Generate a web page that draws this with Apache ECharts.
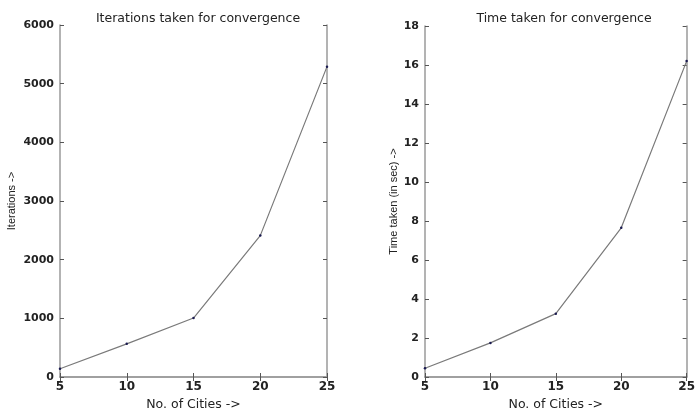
<!DOCTYPE html>
<html>
<head>
<meta charset="utf-8">
<script src="https://cdn.jsdelivr.net/npm/echarts@6/dist/echarts.min.js"></script>
<style>html,body{margin:0;padding:0;background:#fff}#c{width:698px;height:416px}</style>
</head>
<body>
<div id="c"></div>
<script>
const cities = [5, 10, 15, 20, 25];
const iterations = [140, 565, 1005, 2410, 5290];
const timeSec = [0.45, 1.75, 3.25, 7.65, 16.2];
const leftTitle = 'Iterations taken for convergence';
const rightTitle = 'Time taken for convergence';
const xName = 'No. of Cities ->';
const leftYName = 'Iterations ->';
const rightYName = 'Time taken (in sec) ->';

const FONT = 'DejaVu Sans';
const TXT = '#222';
const AX = '#9a9a9a';

function pairs(xs, ys) { return xs.map((x, i) => [x, ys[i]]); }

function xAxes(gi) {
  const base = {
    gridIndex: gi, type: 'value', min: 5, max: 25, interval: 5,
    splitLine: { show: false },
    axisLine: { show: true, lineStyle: { color: AX, width: 1.5 } },
    axisTick: { show: true, inside: true, length: 4, lineStyle: { color: '#555', width: 1 } }
  };
  return [
    Object.assign({}, base, {
      position: 'bottom',
      name: xName, nameLocation: 'middle', nameGap: 21,
      nameTextStyle: { fontFamily: FONT, fontSize: 12.5, color: TXT },
      axisLabel: { fontFamily: FONT, fontSize: 12, fontWeight: 'bold', color: TXT, margin: 4,
                   formatter: v => String(v) }
    }),
    Object.assign({}, base, { position: 'top', axisLabel: { show: false } })
  ];
}
function yAxes(gi, max, interval, name, gap) {
  const base = {
    gridIndex: gi, type: 'value', min: 0, max: max, interval: interval,
    splitLine: { show: false },
    axisLine: { show: true, onZero: false, lineStyle: { color: AX, width: 1.5 } },
    axisTick: { show: true, inside: true, length: 4, lineStyle: { color: '#555', width: 1 } }
  };
  return [
    Object.assign({}, base, {
      position: 'left',
      name: name, nameLocation: 'middle', nameGap: gap, nameRotate: 90,
      nameTextStyle: { fontFamily: 'Liberation Sans Narrow, Liberation Sans', fontSize: 11, color: TXT },
      axisLabel: { fontFamily: FONT, fontSize: 11, fontWeight: 'bold', color: TXT, margin: 6,
                   formatter: v => String(v) }
    }),
    Object.assign({}, base, { position: 'right', axisLabel: { show: false } })
  ];
}

const xa = xAxes(0).concat(xAxes(1));
const ya = yAxes(0, 6000, 1000, leftYName, 43).concat(yAxes(1, 18, 2, rightYName, 25));

const lineStyle = { color: '#7a7a7a', width: 1.2 };
const itemStyle = { color: '#1a1a50' };

const chart = echarts.init(document.getElementById('c'));
chart.setOption({
  animation: false,
  backgroundColor: '#fff',
  title: [
    { text: leftTitle, left: 193, top: 7, textAlign: 'center',
      textStyle: { fontFamily: FONT, fontSize: 12.5, fontWeight: 'normal', color: TXT } },
    { text: rightTitle, left: 559, top: 7, textAlign: 'center',
      textStyle: { fontFamily: FONT, fontSize: 12.5, fontWeight: 'normal', color: TXT } }
  ],
  grid: [
    { left: 60, top: 25, width: 267, height: 361 },
    { left: 425, top: 26, width: 268, height: 360 }
  ],
  xAxis: xa,
  yAxis: ya,
  series: [
    { type: 'line', xAxisIndex: 0, yAxisIndex: 0, data: pairs(cities, iterations),
      symbol: 'circle', symbolSize: 2.5, lineStyle: lineStyle, itemStyle: itemStyle },
    { type: 'line', xAxisIndex: 2, yAxisIndex: 2, data: pairs(cities, timeSec),
      symbol: 'circle', symbolSize: 2.5, lineStyle: lineStyle, itemStyle: itemStyle }
  ]
});
</script>
</body>
</html>
